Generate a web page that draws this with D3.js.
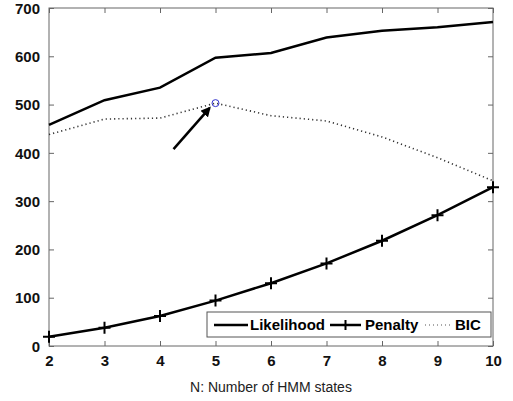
<!DOCTYPE html>
<html>
<head>
<meta charset="utf-8">
<script src="https://cdn.jsdelivr.net/npm/d3@7"></script>
<style>
  body { margin: 0; background: #fff; }
  svg { display: block; font-family: "Liberation Sans", Arial, sans-serif; }
</style>
</head>
<body>
<svg id="chart"></svg>
<script>
// data
const states = [2, 3, 4, 5, 6, 7, 8, 9, 10];
const likelihood = [458, 509, 535, 597, 607, 639, 653, 660, 671];
const penalty = [19, 38, 62, 94, 130, 171, 218, 271, 329];
const bic = [438, 470, 472, 503, 477, 466, 433, 390, 342];
const yTicks = [0, 100, 200, 300, 400, 500, 600, 700];
const bestState = 5;
const xLabel = "N: Number of HMM states";

const width = 513, height = 401;
const marginTop = 8, marginRight = 20, marginBottom = 55, marginLeft = 49;

const svg = d3.select("#chart")
    .attr("width", width)
    .attr("height", height)
    .attr("viewBox", [0, 0, width, height]);

const x = d3.scaleLinear([2, 10], [marginLeft, width - marginRight]);
const y = d3.scaleLinear([0, 700], [height - marginBottom, marginTop]);

const innerW = width - marginLeft - marginRight;
const innerH = height - marginTop - marginBottom;

// frame
svg.append("rect")
    .attr("x", marginLeft).attr("y", marginTop)
    .attr("width", innerW).attr("height", innerH)
    .attr("fill", "none").attr("stroke", "#666").attr("stroke-width", 1);

// axes with inward ticks
const styleAxis = g => {
    g.select(".domain").remove();
    g.selectAll(".tick line").attr("stroke", "#666");
    g.selectAll(".tick text")
        .attr("font-size", 15).attr("font-weight", "bold").attr("fill", "#111");
};

svg.append("g")
    .attr("transform", `translate(0,${height - marginBottom})`)
    .call(d3.axisBottom(x).tickValues(states).tickSize(-5).tickPadding(9))
    .call(styleAxis);

svg.append("g")
    .attr("transform", `translate(0,${marginTop})`)
    .call(d3.axisTop(x).tickValues(states).tickSize(-5).tickFormat(""))
    .call(styleAxis);

svg.append("g")
    .attr("transform", `translate(${marginLeft},0)`)
    .call(d3.axisLeft(y).tickValues(yTicks).tickSize(-5).tickPadding(9))
    .call(styleAxis)
    .call(g => g.selectAll(".tick text").attr("dy", "0.35em"));

svg.append("g")
    .attr("transform", `translate(${width - marginRight},0)`)
    .call(d3.axisRight(y).tickValues(yTicks).tickSize(-5).tickFormat(""))
    .call(styleAxis);

svg.append("text")
    .attr("x", marginLeft + innerW / 2)
    .attr("y", 392)
    .attr("text-anchor", "middle")
    .attr("font-size", 14)
    .attr("fill", "#222")
    .text(xLabel);

// lines
const line = d3.line().x((d, i) => x(states[i])).y(d => y(d));

svg.append("path")
    .attr("d", line(likelihood))
    .attr("fill", "none").attr("stroke", "#000").attr("stroke-width", 2.5);

svg.append("path")
    .attr("d", line(bic))
    .attr("fill", "none").attr("stroke", "#333").attr("stroke-width", 1.6)
    .attr("stroke-dasharray", "1.2,3");

svg.append("path")
    .attr("d", line(penalty))
    .attr("fill", "none").attr("stroke", "#000").attr("stroke-width", 2.5);

const plusPath = (cx, cy, r) => `M${cx - r},${cy}H${cx + r}M${cx},${cy - r}V${cy + r}`;

svg.append("g")
    .selectAll("path")
    .data(penalty)
    .join("path")
    .attr("d", (d, i) => plusPath(x(states[i]), y(d), 6))
    .attr("stroke", "#000").attr("stroke-width", 2);

// best BIC marker and arrow
const bi = states.indexOf(bestState);
const bx = x(bestState), by = y(bic[bi]);
svg.append("circle")
    .attr("cx", bx).attr("cy", by).attr("r", 3.5)
    .attr("fill", "none").attr("stroke", "#3333cc").attr("stroke-width", 1);

svg.append("defs").append("marker")
    .attr("id", "arrowhead")
    .attr("viewBox", "0 0 10 10")
    .attr("refX", 8).attr("refY", 5)
    .attr("markerWidth", 4).attr("markerHeight", 4)
    .attr("orient", "auto")
    .append("path").attr("d", "M0,0L10,5L0,10z").attr("fill", "#000");

svg.append("line")
    .attr("x1", bx - 42).attr("y1", by + 46)
    .attr("x2", bx - 6).attr("y2", by + 5)
    .attr("stroke", "#000").attr("stroke-width", 2.5)
    .attr("marker-end", "url(#arrowhead)");

// legend
const legend = svg.append("g");
legend.append("rect")
    .attr("x", 207).attr("y", 312).attr("width", 284).attr("height", 25)
    .attr("fill", "#fff").attr("stroke", "#555").attr("stroke-width", 1);

const ly = 325;
legend.append("line").attr("x1", 214).attr("x2", 248).attr("y1", ly).attr("y2", ly)
    .attr("stroke", "#000").attr("stroke-width", 2.5);
legend.append("text").attr("x", 250).attr("y", ly).attr("dy", "0.35em")
    .attr("font-size", 15).attr("font-weight", "bold").text("Likelihood");

legend.append("line").attr("x1", 330).attr("x2", 361).attr("y1", ly).attr("y2", ly)
    .attr("stroke", "#000").attr("stroke-width", 2.5);
legend.append("path").attr("d", plusPath(345.5, ly, 5))
    .attr("stroke", "#000").attr("stroke-width", 2);
legend.append("text").attr("x", 365).attr("y", ly).attr("dy", "0.35em")
    .attr("font-size", 15).attr("font-weight", "bold").text("Penalty");

legend.append("line").attr("x1", 425).attr("x2", 451).attr("y1", ly).attr("y2", ly)
    .attr("stroke", "#555").attr("stroke-width", 1.2).attr("stroke-dasharray", "1,3");
legend.append("text").attr("x", 455).attr("y", ly).attr("dy", "0.35em")
    .attr("font-size", 15).attr("font-weight", "bold").text("BIC");
</script>
</body>
</html>
